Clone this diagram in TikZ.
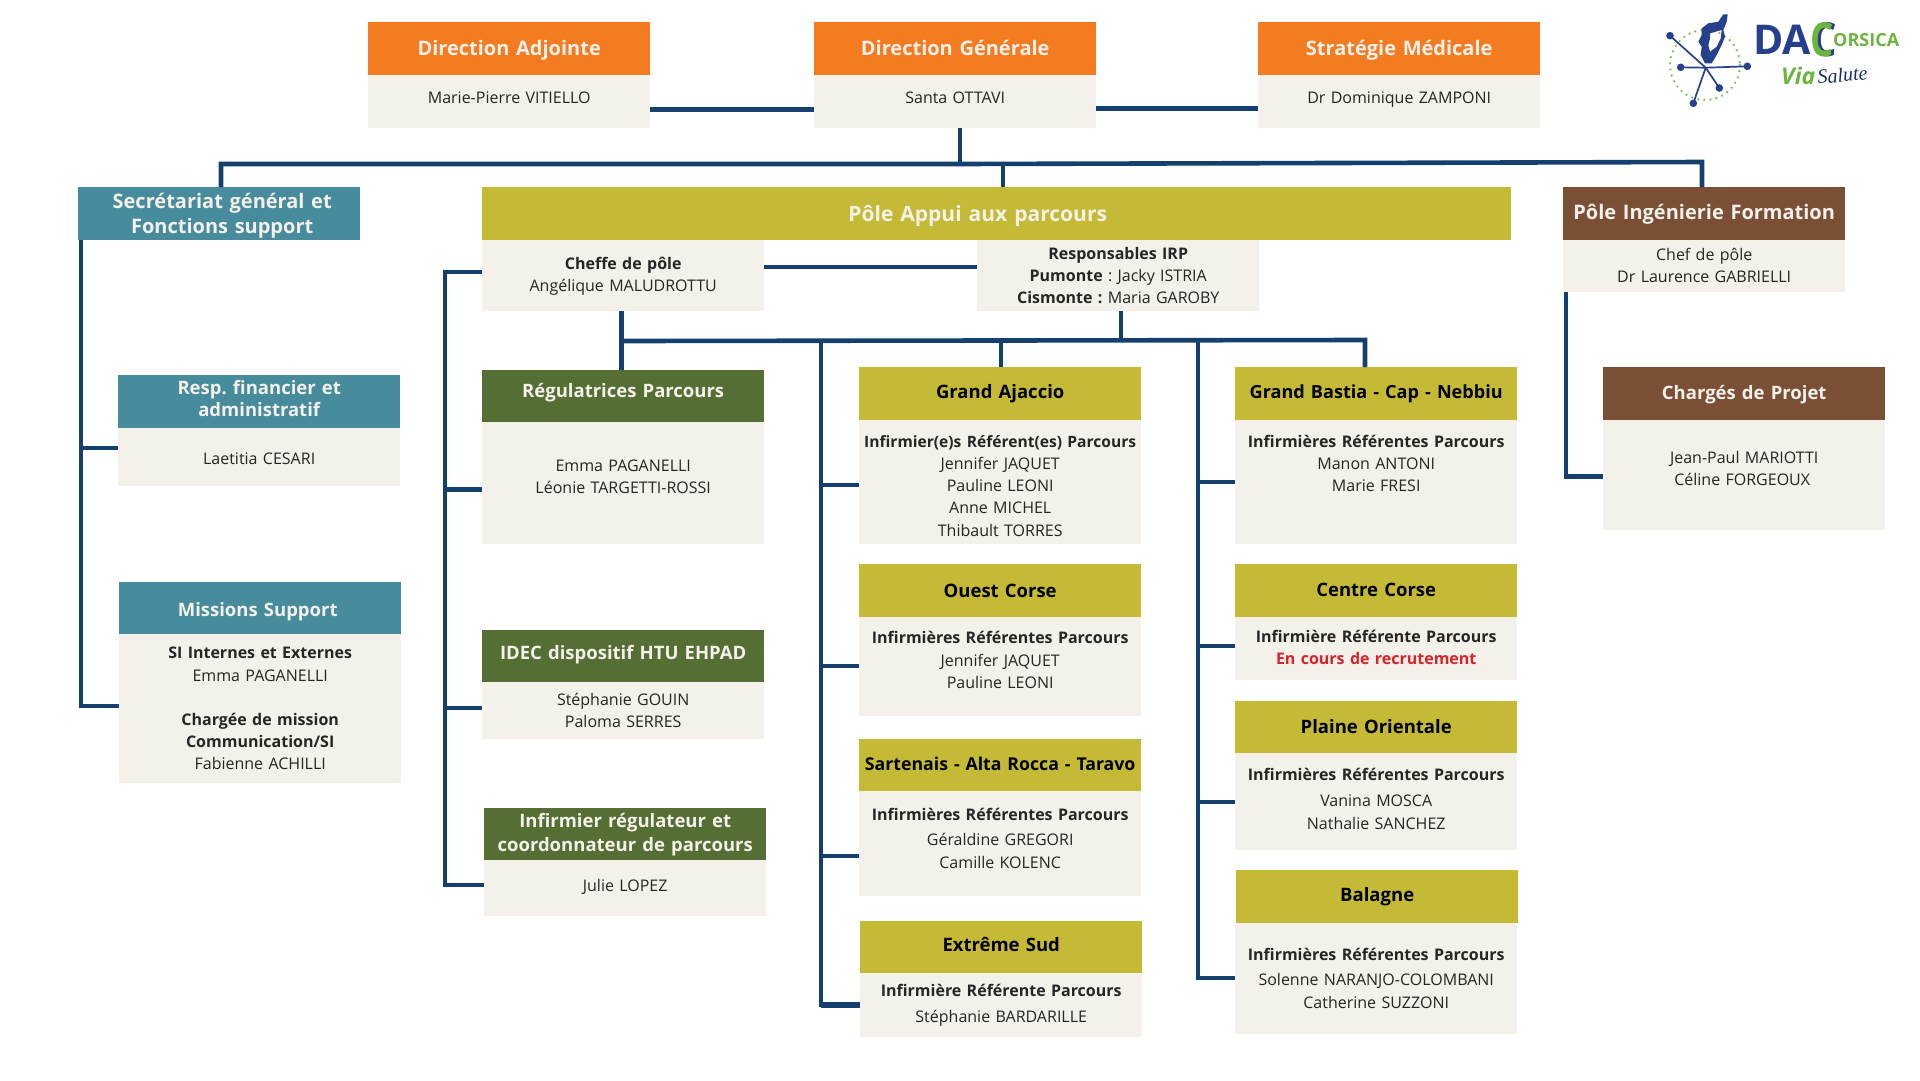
\documentclass[tikz,border=0pt]{standalone}
\usepackage{fontspec}
\setmainfont[WordSpace=0.8]{Open Sans}
\newfontfamily\scriptfam{Liberation Serif}
\usepackage{xcolor}
\frenchspacing
\definecolor{orangehd}{HTML}{F47B20}
\definecolor{tealhd}{HTML}{478C9C}
\definecolor{olivehd}{HTML}{C4BA36}
\definecolor{greenhd}{HTML}{546E34}
\definecolor{brownhd}{HTML}{7B4F36}
\definecolor{creambg}{HTML}{F4F0EA}
\definecolor{linkblue}{HTML}{14406F}
\definecolor{redtxt}{HTML}{D9232A}
\definecolor{logoblue}{HTML}{27408B}
\definecolor{logogreen}{HTML}{6DB33F}
\tikzset{
  head/.style={anchor=north west, inner sep=0pt, minimum width=282pt, minimum height=53pt, text width=282pt, align=center, font=\fontsize{18.5}{24.5}\selectfont\bfseries, execute at begin node=\strut, execute at end node=\strut},
  whitehead/.style={head, text=creambg},
  bighead/.style={whitehead, font=\fontsize{20}{24.5}\selectfont\bfseries},
  body/.style={anchor=north west, inner sep=0pt, fill=creambg, minimum width=282pt, text width=282pt, align=center, text=black!85, font=\fontsize{16}{22.2}\selectfont, execute at begin node=\strut, execute at end node=\strut},
  lift/.style={execute at end node={\par\kern #1\relax}},
  link/.style={draw=linkblue, line width=4.6pt, line cap=butt, line join=miter}
}

\begin{document}
\begin{tikzpicture}[x=1pt,y=-1pt]
\useasboundingbox (0,0) rectangle (1920,1080);

\node[bighead, fill=orangehd, lift=-3.7pt] (daH) at (368,22) {Direction Adjointe};
\node[body, minimum height=53pt, lift=6pt] (daB) at (368,75) {Marie-Pierre VITIELLO};
\node[bighead, fill=orangehd, lift=-3.7pt] (dgH) at (814,22) {Direction Générale};
\node[body, minimum height=53pt, lift=6pt] (dgB) at (814,75) {Santa OTTAVI};
\node[bighead, fill=orangehd, lift=-3.7pt] (smH) at (1258,22) {Stratégie Médicale};
\node[body, minimum height=53pt, lift=6pt] (smB) at (1258,75) {Dr Dominique ZAMPONI};

\node[bighead, fill=tealhd, lift=-5pt] (sgH) at (78,187) {\hspace*{6pt}Secrétariat général et\\\hspace*{6pt}Fonctions support};
\node[whitehead, fill=tealhd, lift=2.5pt] (rfH) at (118,375) {Resp. financier et\\[-2.5pt]administratif};
\node[body, minimum height=58pt, lift=-6pt] (rfB) at (118,428) {Laetitia CESARI};
\node[whitehead, fill=tealhd, lift=-5pt] (msH) at (119,582) {Missions Support\hspace*{5pt}};
\node[body, minimum height=149pt, lift=-2.5pt] (msB) at (119,634) {\textbf{SI Internes et Externes}\\Emma PAGANELLI\\[22.2pt]\textbf{Chargée de mission}\\\textbf{Communication/SI}\\Fabienne ACHILLI};

\node[bighead, fill=olivehd, minimum width=1029pt, text width=1029pt, font=\fontsize{21}{24.5}\selectfont\bfseries, lift=-5pt] (paH) at (482,187) {Pôle Appui aux parcours\hspace*{38pt}};
\node[body, minimum height=71pt, lift=-1pt] (chB) at (482,240) {\textbf{Cheffe de pôle}\\Angélique MALUDROTTU};
\node[body, minimum height=71pt, lift=-3pt] (irB) at (977,240) {\textbf{Responsables IRP}\\\textbf{Pumonte} : Jacky ISTRIA\\\textbf{Cismonte :} Maria GAROBY};

\node[whitehead, fill=greenhd, lift=7.4pt] (rgH) at (482,370) {Régulatrices Parcours};
\node[body, minimum height=122pt, lift=10pt] (rgB) at (482,422) {Emma PAGANELLI\\Léonie TARGETTI-ROSSI};
\node[whitehead, fill=greenhd, lift=5pt] (idH) at (482,630) {IDEC dispositif HTU EHPAD};
\node[body, minimum height=57pt, lift=-2.5pt] (idB) at (482,682) {Stéphanie GOUIN\\Paloma SERRES};
\node[whitehead, fill=greenhd] (inH) at (484,808) {Infirmier régulateur et\\coordonnateur de parcours};
\node[body, minimum height=56pt, lift=2.5pt] (inB) at (484,860) {Julie LOPEZ};

\node[head, fill=olivehd] (ajH) at (859,367) {Grand Ajaccio};
\node[body, minimum height=124pt, lift=-10pt] (ajB) at (859,420) {\textbf{\fontsize{15.6}{22.2}\selectfont Infirmier(e)s Référent(es) Parcours}\\Jennifer JAQUET\\Pauline LEONI\\Anne MICHEL\\Thibault TORRES};
\node[head, fill=olivehd, lift=-3.7pt] (ouH) at (859,564) {Ouest Corse};
\node[body, minimum height=99pt, lift=10pt] (ouB) at (859,617) {\textbf{Infirmières Référentes Parcours}\\Jennifer JAQUET\\Pauline LEONI};
\node[head, fill=olivehd, font=\fontsize{17.7}{24.5}\selectfont\bfseries] (saH) at (859,739) {Sartenais - Alta Rocca - Taravo};
\node[body, minimum height=105pt, lift=7.4pt] (saB) at (859,791) {\textbf{Infirmières Référentes Parcours}\\[3pt]Géraldine GREGORI\\Camille KOLENC};
\node[head, fill=olivehd, lift=2.5pt] (exH) at (860,921) {Extrême Sud};
\node[body, minimum height=64pt] (exB) at (860,973) {\textbf{Infirmière Référente Parcours}\\[3.5pt]Stéphanie BARDARILLE};

\node[head, fill=olivehd, font=\fontsize{18.1}{24.5}\selectfont\bfseries] (gbH) at (1235,367) {Grand Bastia - Cap - Nebbiu};
\node[body, minimum height=124pt, lift=34pt] (gbB) at (1235,420) {\textbf{Infirmières Référentes Parcours}\\Manon ANTONI\\Marie FRESI};
\node[head, fill=olivehd, lift=-1pt] (ceH) at (1235,564) {Centre Corse};
\node[body, minimum height=63pt, lift=-1pt] (ceB) at (1235,617) {\textbf{Infirmière Référente Parcours}\\\textcolor{redtxt}{\textbf{En cours de recrutement}}};
\node[head, fill=olivehd, lift=-1pt] (plH) at (1235,701) {Plaine Orientale};
\node[body, minimum height=97pt, lift=2.5pt] (plB) at (1235,753) {\textbf{Infirmières Référentes Parcours}\\[4pt]Vanina MOSCA\\Nathalie SANCHEZ};
\node[head, fill=olivehd, lift=1pt] (baH) at (1236,870) {Balagne};
\node[body, minimum height=111pt, lift=-2.5pt] (baB) at (1235,923) {\textbf{Infirmières Référentes Parcours}\\[3pt]Solenne NARANJO-COLOMBANI\\Catherine SUZZONI};

\node[bighead, fill=brownhd, lift=-2.5pt] (piH) at (1563,187) {Pôle Ingénierie Formation};
\node[body, minimum height=52pt, lift=-2.5pt] (piB) at (1563,240) {Chef de pôle\\Dr Laurence GABRIELLI};
\node[whitehead, fill=brownhd, lift=-1pt] (cpH) at (1603,367) {Chargés de Projet};
\node[body, minimum height=110pt, lift=10pt] (cpB) at (1603,420) {Jean-Paul MARIOTTI\\Céline FORGEOUX\hspace*{4pt}};

\coordinate (busTop) at (960,164);
\coordinate (trunkSg) at (81,706);
\coordinate (trunkCh) at (445,885);
\coordinate (busPa) at (621.5,341);
\coordinate (trunkAj) at (821,1005);
\coordinate (trunkGb) at (1198,978);

\draw[link] ([yshift=-8pt]daB.east) -- ([yshift=-8pt]daB.east -| dgB.west);
\draw[link] ([yshift=-7pt]dgB.east) -- ([yshift=-7pt]dgB.east -| smB.west);
\draw[link] (dgB.south -| busTop) -- (busTop);
\draw[link] (sgH.north -| 221,0) |- (busTop) -- (1702,162) -- (piH.north -| 1702,0);
\draw[link] (paH.north -| 1003,0) -- (1003,163);

\draw[link] (sgH.south west -| trunkSg) |- (msB.west |- trunkSg);
\draw[link] (rfB.west |- 0,448) -- (trunkSg |- 0,448);

\draw[link] (chB.west |- 0,272) -| (trunkCh) -- (inB.west |- trunkCh);
\draw[link] (rgB.west |- 0,489.5) -- (trunkCh |- 0,489.5);
\draw[link] (idB.west |- 0,708) -- (trunkCh |- 0,708);
\draw[link] (chB.east |- 0,267) -- (irB.west |- 0,267);

\draw[link] (chB.south -| busPa) -- (rgH.north -| busPa);
\draw[link] (busPa) -- (1365,340) -- (gbH.north -| 1365,0);
\draw[link] (irB.south -| 1121,0) -- (1121,341);
\draw[link] (ajH.north -| 1001,0) -- (1001,341);

\draw[link] (trunkAj |- 0,341) -- (trunkAj) -- (exB.west |- trunkAj);
\draw[link, line width=6pt] (821,1005) -- (exB.west |- 0,1005);
\draw[link] (ajB.west |- 0,485) -- (trunkAj |- 0,485);
\draw[link] (ouB.west |- 0,666) -- (trunkAj |- 0,666);
\draw[link] (saB.west |- 0,856) -- (trunkAj |- 0,856);

\draw[link] (trunkGb |- 0,341) -- (trunkGb) -- (baB.west |- trunkGb);
\draw[link] (gbB.west |- 0,482) -- (trunkGb |- 0,482);
\draw[link] (ceB.west |- 0,646) -- (trunkGb |- 0,646);
\draw[link] (plB.west |- 0,802) -- (trunkGb |- 0,802);

\draw[link] (piB.south -| 1566,0) |- (cpB.west |- 0,476.5);

\draw[logogreen!85!white, line width=2.6pt, line cap=round, dash pattern=on 0pt off 6.2pt] (1705,65) circle (35);
\draw[logoblue, line width=1.7pt] (1670,35.7) -- (1705.7,67.7) -- (1719.3,88);
\draw[logoblue, line width=1.7pt] (1680.7,67.3) -- (1705.7,67.7) -- (1747.3,66.3);
\draw[logoblue, line width=1.7pt] (1705.7,67.7) -- (1693.3,103.3);
\foreach \px/\py in {1670/35.7, 1680.7/67.3, 1747.3/66.3, 1719.3/88, 1693.3/103.3}
  \fill[logoblue] (\px,\py) circle (3.8);
\fill[logoblue, even odd rule] (1723.3,14.3) -- (1727.7,14.3) -- (1726.7,21.7) -- (1723.3,30) -- (1725,36.7) -- (1721.7,45) -- (1716.7,55) -- (1711.7,63.3) -- (1705,63.3) -- (1700.7,55) -- (1701.7,46.7) -- (1698.3,41.7) -- (1701.7,35) -- (1701.7,28.3) -- (1708.3,23.3) -- (1718.3,21.7) -- cycle
  (1710,33.3) -- (1721.7,30) -- (1720.7,38.3) -- (1716.7,46.7) -- (1710,51.7) -- (1708.3,45) -- (1710,38.3) -- cycle;
\node[anchor=base west, inner sep=0pt, text=logoblue, font=\fontsize{41}{41}\selectfont\bfseries] (logoDa) at (1753,54) {DA};
\node[anchor=base west, inner sep=0pt, text=logoblue, font=\fontsize{47}{47}\selectfont\bfseries, xscale=0.78, transform shape] (logoC) at (1813,56) {C};
\node[anchor=base west, inner sep=0pt, text=logogreen, font=\fontsize{47}{47}\selectfont\bfseries, xscale=0.78, transform shape] (logoG) at (1810,56) {C};
\node[anchor=base west, inner sep=0pt, text=logogreen, font=\fontsize{18}{18}\selectfont\bfseries] (logoOrs) at (1833,46) {ORSICA};
\node[anchor=base west, inner sep=0pt, text=logogreen, font=\fontsize{23}{23}\selectfont\bfseries\itshape] (logoVia) at (1781,84) {Via};
\node[anchor=base west, inner sep=0pt, text=logoblue!70!black, font=\fontsize{20}{20}\selectfont\scriptfam\itshape, rotate=5] (logoSal) at (1818,84) {Salute};

\end{tikzpicture}
\end{document}
